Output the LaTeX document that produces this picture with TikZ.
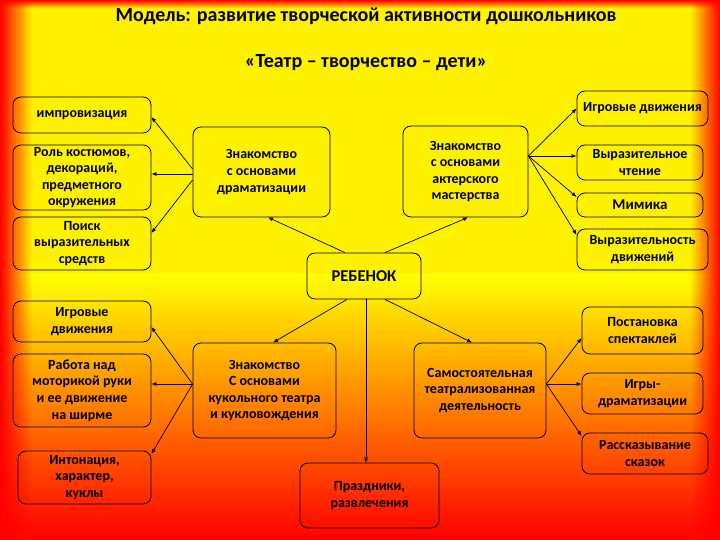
\documentclass[tikz,border=0pt]{standalone}
\usepackage{fontspec}
\setmainfont{Carlito}
\usepackage{tikz}
\usetikzlibrary{positioning,arrows.meta,fadings}

\begin{document}
\begin{tikzpicture}[
    x=1pt, y=1pt,
    node distance=10pt, on grid,
    box/.style={rectangle, draw, rounded corners=8pt, line width=0.8pt, align=center, inner sep=2pt,
        font=\fontsize{14}{16.6}\selectfont\bfseries},
    head/.style={font=\fontsize{20}{22}\selectfont\bfseries},
    link/.style={-{Latex[length=5pt,width=4pt]}, line width=0.7pt}
]

% Background
\useasboundingbox (0,0) rectangle (720,540);
\fill[yellow] (0,0) rectangle (720,540);
\shade[top color=yellow, bottom color=red] (0,0) rectangle (720,265);
\fill[red, path fading=east] (0,0) rectangle (32,540);
\fill[red, path fading=west] (690,0) rectangle (720,540);
\fill[red, path fading=south] (0,532) rectangle (720,540);

% Titles
\node[head] (title) at (366,524) {Модель: развитие творческой активности дошкольников};
\node[head, below=47pt of title] (motto) {«Театр – творчество – дети»};

% Centre
\node[box, minimum width=114pt, minimum height=46pt, font=\fontsize{16.5}{18}\selectfont\bfseries] (child) at (364,264) {РЕБЕНОК};

% Four branches
\node[box, minimum width=137pt, minimum height=90pt, above left=104pt and 102.5pt of child] (drama) {Знакомство\\с основами\\драматизации};
\node[box, minimum width=125pt, minimum height=91pt, above right=104.5pt and 101.5pt of child] (acting) {Знакомство\\с основами\\актерского\\мастерства};
\node[box, minimum width=143pt, minimum height=95pt, below left=114.5pt and 99.5pt of child] (puppet) {Знакомство\\С основами\\кукольного театра\\и кукловождения};
\node[box, minimum width=132pt, minimum height=95pt, below right=114.5pt and 116pt of child] (self) {Самостоятельная\\театрализованная\\деятельность};
\node[box, minimum width=139pt, minimum height=65pt, below=219.5pt of child, xshift=5.5pt] (fest) {Праздники,\\развлечения};

% Drama leaves
\node[box, minimum width=138pt, minimum height=36pt, above left=57pt and 179.5pt of drama] (impro) {импровизация};
\node[box, minimum width=138pt, minimum height=65pt, left=179.5pt of drama, yshift=-5.5pt] (role) {Роль костюмов,\\декораций,\\предметного\\окружения};
\node[box, minimum width=138pt, minimum height=53pt, below left=71.5pt and 179.5pt of drama] (search) {Поиск\\выразительных\\средств};

% Acting leaves
\node[box, minimum width=131pt, minimum height=35pt, above right=63pt and 177pt of acting] (play) {Игровые движения};
\node[box, minimum width=126pt, minimum height=35pt, right=174.5pt of acting, yshift=9pt] (reading) {Выразительное\\чтение};
\node[box, minimum width=126pt, minimum height=24pt, below right=33.5pt and 174.5pt of acting, font=\fontsize{15}{18}\selectfont\bfseries] (mimic) {Мимика};
\node[box, minimum width=131pt, minimum height=41pt, below right=78pt and 177pt of acting] (motion) {Выразительность\\движений};

% Puppet leaves
\node[box, minimum width=138pt, minimum height=41pt, above left=69pt and 182.5pt of puppet] (pplay) {Игровые\\движения};
\node[box, minimum width=138pt, minimum height=73pt, left=182.5pt of puppet] (hand) {Работа над\\моторикой руки\\и ее движение\\на ширме};
\node[box, minimum width=133pt, minimum height=53pt, below left=87pt and 180pt of puppet] (tone) {Интонация,\\характер,\\куклы};

% Self leaves
\node[box, minimum width=121pt, minimum height=47pt, above right=60pt and 162.5pt of self] (stage) {Постановка\\спектаклей};
\node[box, minimum width=121pt, minimum height=41pt, below right=3pt and 162.5pt of self] (games) {Игры-\\драматизации};
\node[box, minimum width=126pt, minimum height=41pt, below right=63pt and 165pt of self] (tales) {Рассказывание\\сказок};

% Arrows from the centre
\draw[link] ([xshift=-19pt]child.north) -- ([xshift=6.5pt]drama.south);
\draw[link] ([xshift=21pt]child.north) -- ([xshift=2.5pt]acting.south);
\draw[link] ([xshift=-17pt]child.south) -- ([xshift=8.5pt]puppet.north);
\draw[link] ([xshift=21pt]child.south) -- ([xshift=-8pt]self.north);
\draw[link] ([xshift=2pt]child.south) -- ([xshift=-3.5pt]fest.north);

% Arrows to the leaves
\draw[link] ([yshift=3pt]drama.west) -- ([yshift=-2pt]impro.east);
\draw[link] ([yshift=-2pt]drama.west) -- ([yshift=3.5pt]role.east);
\draw[link] ([yshift=-8pt]drama.west) -- ([yshift=10.5pt]search.east);
\draw[link] ([yshift=15.5pt]acting.east) -- (play.west);
\draw[link] ([yshift=15.5pt]acting.east) -- ([yshift=6.5pt]reading.west);
\draw[link] ([yshift=15.5pt]acting.east) -- ([yshift=8pt]mimic.west);
\draw[link] ([yshift=15.5pt]acting.east) -- ([yshift=14.5pt]motion.west);
\draw[link] ([yshift=6.5pt]puppet.west) -- ([yshift=-5.5pt]pplay.east);
\draw[link] ([yshift=6.5pt]puppet.west) -- ([yshift=6.5pt]hand.east);
\draw[link] ([yshift=6.5pt]puppet.west) -- ([yshift=23.5pt]tone.east);
\draw[link] ([yshift=6.5pt]self.east) -- ([yshift=-7.5pt]stage.west);
\draw[link] ([yshift=6.5pt]self.east) -- ([yshift=9.5pt]games.west);
\draw[link] ([yshift=6.5pt]self.east) -- ([yshift=17.5pt]tales.west);

\end{tikzpicture}
\end{document}
